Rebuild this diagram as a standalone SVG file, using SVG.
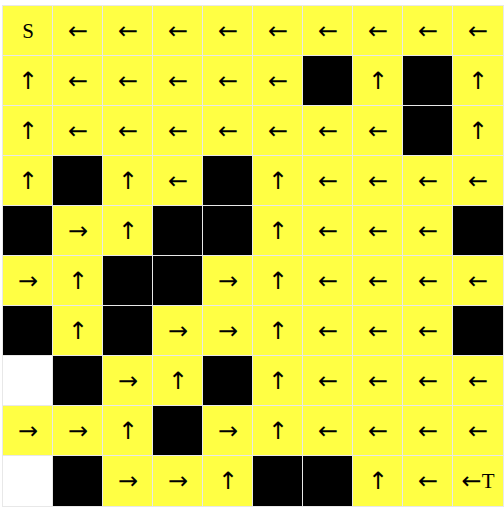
<svg xmlns="http://www.w3.org/2000/svg" width="504" height="509" viewBox="0 0 504 509">
<style>
.y{fill:#ffff44}
.b{fill:#000}
.w{fill:#fff}
text{font-family:"DejaVu Sans",sans-serif;font-size:24px;fill:#000;text-anchor:middle;dominant-baseline:central}
.s{font-family:"Liberation Serif","DejaVu Serif",serif;font-size:21px}
</style>
<rect x="0" y="0" width="504" height="509" fill="#fff"/>
<rect x="2" y="5" width="502" height="502" fill="#e8e8e8"/>
<g id="grid">
<g id="r0">
<rect class="y" x="3" y="6" width="49" height="49"/><rect class="y" x="53" y="6" width="49" height="49"/><rect class="y" x="103" y="6" width="49" height="49"/><rect class="y" x="153" y="6" width="49" height="49"/><rect class="y" x="203" y="6" width="49" height="49"/><rect class="y" x="253" y="6" width="49" height="49"/><rect class="y" x="303" y="6" width="49" height="49"/><rect class="y" x="353" y="6" width="49" height="49"/><rect class="y" x="403" y="6" width="49" height="49"/><rect class="y" x="453" y="6" width="50" height="49"/>
<text class="s" x="28" y="31">S</text><text x="78" y="31">←</text><text x="128" y="31">←</text><text x="178" y="31">←</text><text x="228" y="31">←</text><text x="278" y="31">←</text><text x="328" y="31">←</text><text x="378" y="31">←</text><text x="428" y="31">←</text><text x="478" y="31">←</text>
</g>
<g id="r1">
<rect class="y" x="3" y="56" width="49" height="49"/><rect class="y" x="53" y="56" width="49" height="49"/><rect class="y" x="103" y="56" width="49" height="49"/><rect class="y" x="153" y="56" width="49" height="49"/><rect class="y" x="203" y="56" width="49" height="49"/><rect class="y" x="253" y="56" width="49" height="49"/><rect class="b" x="303" y="56" width="49" height="49"/><rect class="y" x="353" y="56" width="49" height="49"/><rect class="b" x="403" y="56" width="49" height="49"/><rect class="y" x="453" y="56" width="50" height="49"/>
<text x="28" y="81">↑</text><text x="78" y="81">←</text><text x="128" y="81">←</text><text x="178" y="81">←</text><text x="228" y="81">←</text><text x="278" y="81">←</text><text x="378" y="81">↑</text><text x="478" y="81">↑</text>
</g>
<g id="r2">
<rect class="y" x="3" y="106" width="49" height="49"/><rect class="y" x="53" y="106" width="49" height="49"/><rect class="y" x="103" y="106" width="49" height="49"/><rect class="y" x="153" y="106" width="49" height="49"/><rect class="y" x="203" y="106" width="49" height="49"/><rect class="y" x="253" y="106" width="49" height="49"/><rect class="y" x="303" y="106" width="49" height="49"/><rect class="y" x="353" y="106" width="49" height="49"/><rect class="b" x="403" y="106" width="49" height="49"/><rect class="y" x="453" y="106" width="50" height="49"/>
<text x="28" y="131">↑</text><text x="78" y="131">←</text><text x="128" y="131">←</text><text x="178" y="131">←</text><text x="228" y="131">←</text><text x="278" y="131">←</text><text x="328" y="131">←</text><text x="378" y="131">←</text><text x="478" y="131">↑</text>
</g>
<g id="r3">
<rect class="y" x="3" y="156" width="49" height="49"/><rect class="b" x="53" y="156" width="49" height="49"/><rect class="y" x="103" y="156" width="49" height="49"/><rect class="y" x="153" y="156" width="49" height="49"/><rect class="b" x="203" y="156" width="49" height="49"/><rect class="y" x="253" y="156" width="49" height="49"/><rect class="y" x="303" y="156" width="49" height="49"/><rect class="y" x="353" y="156" width="49" height="49"/><rect class="y" x="403" y="156" width="49" height="49"/><rect class="y" x="453" y="156" width="50" height="49"/>
<text x="28" y="181">↑</text><text x="128" y="181">↑</text><text x="178" y="181">←</text><text x="278" y="181">↑</text><text x="328" y="181">←</text><text x="378" y="181">←</text><text x="428" y="181">←</text><text x="478" y="181">←</text>
</g>
<g id="r4">
<rect class="b" x="3" y="206" width="49" height="49"/><rect class="y" x="53" y="206" width="49" height="49"/><rect class="y" x="103" y="206" width="49" height="49"/><rect class="b" x="153" y="206" width="49" height="49"/><rect class="b" x="203" y="206" width="49" height="49"/><rect class="y" x="253" y="206" width="49" height="49"/><rect class="y" x="303" y="206" width="49" height="49"/><rect class="y" x="353" y="206" width="49" height="49"/><rect class="y" x="403" y="206" width="49" height="49"/><rect class="b" x="453" y="206" width="50" height="49"/>
<text x="78" y="231">→</text><text x="128" y="231">↑</text><text x="278" y="231">↑</text><text x="328" y="231">←</text><text x="378" y="231">←</text><text x="428" y="231">←</text>
</g>
<g id="r5">
<rect class="y" x="3" y="256" width="49" height="49"/><rect class="y" x="53" y="256" width="49" height="49"/><rect class="b" x="103" y="256" width="49" height="49"/><rect class="b" x="153" y="256" width="49" height="49"/><rect class="y" x="203" y="256" width="49" height="49"/><rect class="y" x="253" y="256" width="49" height="49"/><rect class="y" x="303" y="256" width="49" height="49"/><rect class="y" x="353" y="256" width="49" height="49"/><rect class="y" x="403" y="256" width="49" height="49"/><rect class="y" x="453" y="256" width="50" height="49"/>
<text x="28" y="281">→</text><text x="78" y="281">↑</text><text x="228" y="281">→</text><text x="278" y="281">↑</text><text x="328" y="281">←</text><text x="378" y="281">←</text><text x="428" y="281">←</text><text x="478" y="281">←</text>
</g>
<g id="r6">
<rect class="b" x="3" y="306" width="49" height="49"/><rect class="y" x="53" y="306" width="49" height="49"/><rect class="b" x="103" y="306" width="49" height="49"/><rect class="y" x="153" y="306" width="49" height="49"/><rect class="y" x="203" y="306" width="49" height="49"/><rect class="y" x="253" y="306" width="49" height="49"/><rect class="y" x="303" y="306" width="49" height="49"/><rect class="y" x="353" y="306" width="49" height="49"/><rect class="y" x="403" y="306" width="49" height="49"/><rect class="b" x="453" y="306" width="50" height="49"/>
<text x="78" y="331">↑</text><text x="178" y="331">→</text><text x="228" y="331">→</text><text x="278" y="331">↑</text><text x="328" y="331">←</text><text x="378" y="331">←</text><text x="428" y="331">←</text>
</g>
<g id="r7">
<rect class="w" x="3" y="356" width="49" height="49"/><rect class="b" x="53" y="356" width="49" height="49"/><rect class="y" x="103" y="356" width="49" height="49"/><rect class="y" x="153" y="356" width="49" height="49"/><rect class="b" x="203" y="356" width="49" height="49"/><rect class="y" x="253" y="356" width="49" height="49"/><rect class="y" x="303" y="356" width="49" height="49"/><rect class="y" x="353" y="356" width="49" height="49"/><rect class="y" x="403" y="356" width="49" height="49"/><rect class="y" x="453" y="356" width="50" height="49"/>
<text x="128" y="381">→</text><text x="178" y="381">↑</text><text x="278" y="381">↑</text><text x="328" y="381">←</text><text x="378" y="381">←</text><text x="428" y="381">←</text><text x="478" y="381">←</text>
</g>
<g id="r8">
<rect class="y" x="3" y="406" width="49" height="49"/><rect class="y" x="53" y="406" width="49" height="49"/><rect class="y" x="103" y="406" width="49" height="49"/><rect class="b" x="153" y="406" width="49" height="49"/><rect class="y" x="203" y="406" width="49" height="49"/><rect class="y" x="253" y="406" width="49" height="49"/><rect class="y" x="303" y="406" width="49" height="49"/><rect class="y" x="353" y="406" width="49" height="49"/><rect class="y" x="403" y="406" width="49" height="49"/><rect class="y" x="453" y="406" width="50" height="49"/>
<text x="28" y="431">→</text><text x="78" y="431">→</text><text x="128" y="431">↑</text><text x="228" y="431">→</text><text x="278" y="431">↑</text><text x="328" y="431">←</text><text x="378" y="431">←</text><text x="428" y="431">←</text><text x="478" y="431">←</text>
</g>
<g id="r9">
<rect class="w" x="3" y="456" width="49" height="50"/><rect class="b" x="53" y="456" width="49" height="50"/><rect class="y" x="103" y="456" width="49" height="50"/><rect class="y" x="153" y="456" width="49" height="50"/><rect class="y" x="203" y="456" width="49" height="50"/><rect class="b" x="253" y="456" width="49" height="50"/><rect class="b" x="303" y="456" width="49" height="50"/><rect class="y" x="353" y="456" width="49" height="50"/><rect class="y" x="403" y="456" width="49" height="50"/><rect class="y" x="453" y="456" width="50" height="50"/>
<text x="128" y="481">→</text><text x="178" y="481">→</text><text x="228" y="481">↑</text><text x="378" y="481">↑</text><text x="428" y="481">←</text><text x="478" y="481">←<tspan class="s">T</tspan></text>
</g>
</g>
</svg>
